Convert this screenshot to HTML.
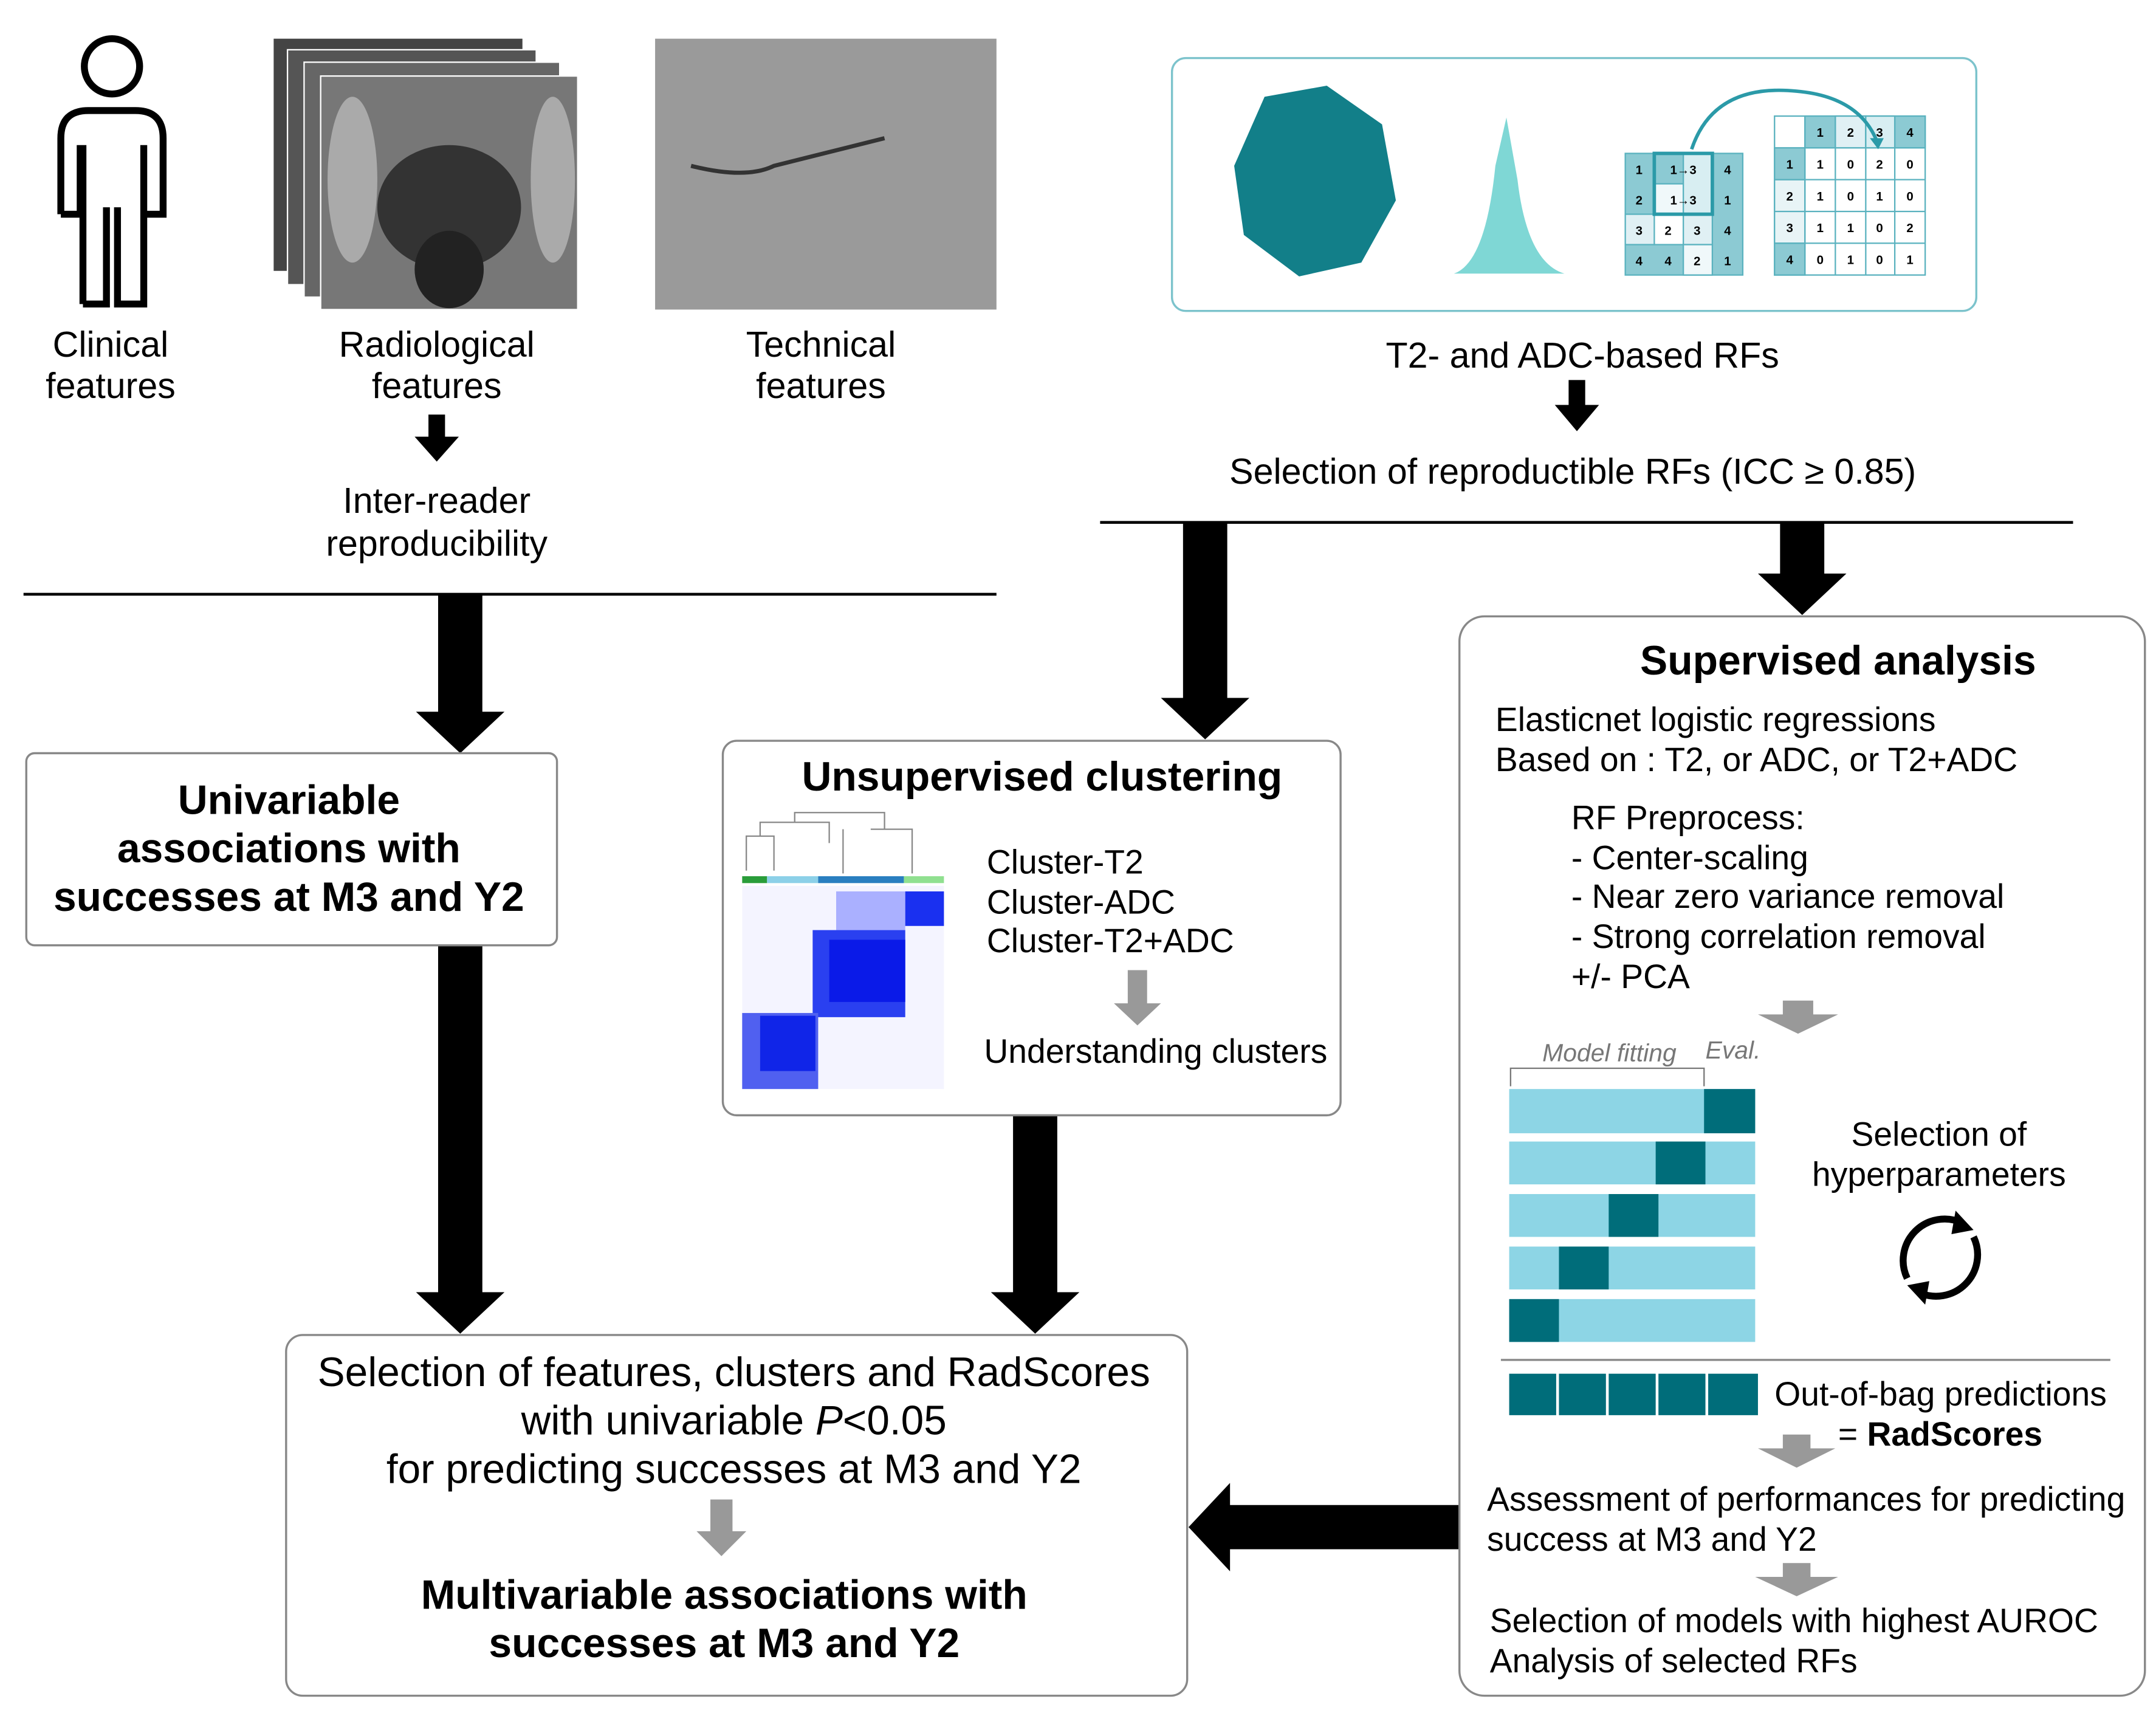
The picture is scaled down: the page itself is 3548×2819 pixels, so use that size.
<!DOCTYPE html>
<html><head><meta charset="utf-8"><style>
html,body{margin:0;padding:0;background:#fff;}
svg{display:block;}
text{font-family:"Liberation Sans",Arial,sans-serif;fill:#000;}
.b{font-weight:bold;}
.g{fill:#006d7a;font-size:9px;font-weight:bold;text-anchor:middle;}
</style></head><body>
<svg width="3548" height="2819" viewBox="0 0 1560 1239.5" xmlns="http://www.w3.org/2000/svg" xml:space="preserve">
<!-- person -->
<g fill="none" stroke="#000" stroke-width="5">
<circle cx="81" cy="48" r="20"/>
<path d="M60,220 L77,220 L77,150 M44,155 L44,100 Q44,80 64,80 L98,80 Q118,80 118,100 L118,155 L104,155 L104,105 M58,105 L58,155 L44,155 M85,150 L85,220 L104,220 L104,105 M60,105 L60,220"/>
</g>
<!-- radiological images -->
<rect x="198" y="28" width="180" height="168" fill="#444"/>
<rect x="208" y="36" width="180" height="170" fill="#555" stroke="#fff"/>
<rect x="220" y="45" width="185" height="170" fill="#666" stroke="#fff"/>
<rect x="232" y="55" width="186" height="169" fill="#777" stroke="#fff"/>
<ellipse cx="325" cy="150" rx="52" ry="45" fill="#333"/>
<ellipse cx="325" cy="195" rx="25" ry="28" fill="#222"/>
<ellipse cx="255" cy="130" rx="18" ry="60" fill="#aaa"/>
<ellipse cx="400" cy="130" rx="16" ry="60" fill="#aaa"/>
<!-- technical -->
<rect x="474" y="28" width="247" height="196" fill="#9a9a9a"/>
<path d="M500,120 Q540,130 560,120 Q600,110 640,100" stroke="#333" stroke-width="3" fill="none"/>
<text x="80" y="258" font-size="26" text-anchor="middle">Clinical</text>
<text x="80" y="288" font-size="26" text-anchor="middle">features</text>
<text x="316" y="258" font-size="26" text-anchor="middle">Radiological</text>
<text x="316" y="288" font-size="26" text-anchor="middle">features</text>
<text x="594" y="258" font-size="26" text-anchor="middle">Technical</text>
<text x="594" y="288" font-size="26" text-anchor="middle">features</text>
<polygon points="310,300 322,300 322,316 332,316 316,334 300,316 310,316"/>
<text x="316" y="371" font-size="26" text-anchor="middle">Inter-reader</text>
<text x="316" y="402" font-size="26" text-anchor="middle">reproducibility</text>
<line x1="17" y1="430" x2="721" y2="430" stroke="#000" stroke-width="2"/>
<!-- top right box -->
<rect x="848" y="42" width="582" height="183" rx="10" fill="#fff" stroke="#7cc3cc" stroke-width="1.5"/>
<path d="M915,70 L960,62 L1000,90 L1010,145 L985,190 L940,200 L900,170 L893,120 Z" fill="#127f89"/>
<path d="M1052,198 Q1075,190 1082,120 L1090,85 L1098,130 Q1105,190 1132,198 Z" fill="#7fd7d5"/>
<g stroke="#5ab2bf" stroke-width="1">
<rect x="1176" y="111" width="85" height="88" fill="#8ccad3"/>
<rect x="1197" y="133" width="21" height="22" fill="#f0f8fa"/>
<rect x="1197" y="155" width="21" height="22" fill="#fff"/>
<rect x="1218" y="155" width="21" height="22" fill="#e0f0f4"/>
<rect x="1218" y="177" width="21" height="22" fill="#f0f8fa"/>
<rect x="1218" y="111" width="21" height="44" fill="#d8eef2"/>
<rect x="1176" y="155" width="21" height="22" fill="#e0f0f4"/>
<rect x="1197" y="111" width="42" height="44" fill="none" stroke="#2b9aa8" stroke-width="2.5"/>
<rect x="1284" y="84" width="109" height="115" fill="#fff"/>
<rect x="1306" y="84" width="87" height="23" fill="#8ccad3"/>
<rect x="1284" y="107" width="22" height="92" fill="#8ccad3"/>
<rect x="1328" y="84" width="22" height="23" fill="#e0f0f4"/>
<rect x="1350" y="84" width="21" height="23" fill="#d8eef2"/>
<rect x="1284" y="130" width="22" height="46" fill="#e8f4f6"/>
<path d="M1306,84V199M1328,84V199M1350,84V199M1371,84V199M1284,107H1393M1284,130H1393M1284,153H1393M1284,176H1393" fill="none"/>
</g>
<g class="g">
<text x="1186" y="126">1</text><text x="1218" y="126">1→3</text><text x="1250" y="126">4</text>
<text x="1186" y="148">2</text><text x="1218" y="148">1→3</text><text x="1250" y="148">1</text>
<text x="1186" y="170">3</text><text x="1207" y="170">2</text><text x="1228" y="170">3</text><text x="1250" y="170">4</text>
<text x="1186" y="192">4</text><text x="1207" y="192">4</text><text x="1228" y="192">2</text><text x="1250" y="192">1</text>
<text x="1317" y="99">1</text><text x="1339" y="99">2</text><text x="1360" y="99">3</text><text x="1382" y="99">4</text>
<text x="1295" y="122">1</text><text x="1317" y="122">1</text><text x="1339" y="122">0</text><text x="1360" y="122">2</text><text x="1382" y="122">0</text>
<text x="1295" y="145">2</text><text x="1317" y="145">1</text><text x="1339" y="145">0</text><text x="1360" y="145">1</text><text x="1382" y="145">0</text>
<text x="1295" y="168">3</text><text x="1317" y="168">1</text><text x="1339" y="168">1</text><text x="1360" y="168">0</text><text x="1382" y="168">2</text>
<text x="1295" y="191">4</text><text x="1317" y="191">0</text><text x="1339" y="191">1</text><text x="1360" y="191">0</text><text x="1382" y="191">1</text>
</g>
<path d="M1224,108 Q1240,60 1300,66 Q1345,70 1358,102" stroke="#2b9aa8" stroke-width="2.5" fill="none"/>
<polygon points="1353,100 1363,100 1359,108" fill="#2b9aa8"/>
<text x="1145" y="266" font-size="26" text-anchor="middle">T2- and ADC-based  RFs</text>
<polygon points="1135,275 1147,275 1147,293 1157,293 1141,312 1125,293 1135,293"/>
<text x="1138" y="350" font-size="26" text-anchor="middle">Selection of reproductible RFs (ICC ≥ 0.85)</text>
<line x1="796" y1="378" x2="1500" y2="378" stroke="#000" stroke-width="2"/>
<!-- big arrows -->
<polygon points="317,430 349,430 349,515 365,515 333,545 301,515 317,515"/>
<polygon points="856,378 888,378 888,505 904,505 872,535 840,505 856,505"/>
<polygon points="1288,378 1320,378 1320,415 1336,415 1304,445 1272,415 1288,415"/>
<polygon points="317,684 349,684 349,935 365,935 333,965 301,935 317,935"/>
<polygon points="733,807 765,807 765,935 781,935 749,965 717,935 733,935"/>
<polygon points="1056,1089 1056,1121 890,1121 890,1137 860,1105 890,1073 890,1089"/>
<!-- univariable -->
<rect x="19" y="545" width="384" height="139" rx="6" fill="#fff" stroke="#888" stroke-width="1.5"/>
<text class="b" x="209" y="589" font-size="29.8" text-anchor="middle">Univariable</text>
<text class="b" x="209" y="624" font-size="29.8" text-anchor="middle">associations with</text>
<text class="b" x="209" y="659" font-size="29.8" text-anchor="middle">successes at M3 and Y2</text>
<!-- unsupervised -->
<rect x="523" y="536" width="447" height="271" rx="10" fill="#fff" stroke="#888" stroke-width="1.5"/>
<text class="b" x="754" y="572" font-size="29.8" text-anchor="middle">Unsupervised clustering</text>
<path d="M540,630 V605 H560 V630 M550,605 V595 H600 V610 M575,595 V588 H640 V600 M610,600 V632 M630,600 H660 V632" stroke="#888" fill="none"/>
<rect x="537" y="634" width="18" height="5" fill="#2a9d3a"/>
<rect x="555" y="634" width="37" height="5" fill="#8cd0e8"/>
<rect x="592" y="634" width="62" height="5" fill="#2a7fc0"/>
<rect x="654" y="634" width="29" height="5" fill="#90e090"/>
<rect x="537" y="641" width="146" height="147" fill="#f4f4ff"/>
<rect x="605" y="645" width="50" height="28" fill="#aab0ff"/>
<rect x="655" y="645" width="28" height="25" fill="#1a30f0"/>
<rect x="588" y="673" width="67" height="63" fill="#2a40f0"/>
<rect x="600" y="680" width="55" height="45" fill="#0a1ae8"/>
<rect x="537" y="733" width="55" height="55" fill="#5060f0"/>
<rect x="550" y="735" width="40" height="40" fill="#1025e8"/>
<text x="714" y="632" font-size="24.3">Cluster-T2</text>
<text x="714" y="661" font-size="24.3">Cluster-ADC</text>
<text x="714" y="689" font-size="24.3">Cluster-T2+ADC</text>
<polygon points="816,702 830,702 830,726 840,726 823,742 806,726 816,726" fill="#999"/>
<text x="712" y="769" font-size="24.3">Understanding clusters</text>
<!-- supervised -->
<rect x="1056" y="446" width="496" height="781" rx="18" fill="#fff" stroke="#888" stroke-width="1.5"/>
<text class="b" x="1330" y="488" font-size="29.8" text-anchor="middle">Supervised analysis</text>
<text x="1082" y="529" font-size="24.3">Elasticnet  logistic regressions</text>
<text x="1082" y="558" font-size="24.3">Based on : T2, or ADC, or T2+ADC</text>
<text x="1137" y="600" font-size="24.3">RF Preprocess:</text>
<text x="1137" y="629" font-size="24.3">- Center-scaling</text>
<text x="1137" y="657" font-size="24.3">- Near zero variance removal</text>
<text x="1137" y="686" font-size="24.3">- Strong correlation removal</text>
<text x="1137" y="715" font-size="24.3">+/- PCA</text>
<polygon points="1290,724 1312,724 1312,734 1330,734 1301,748 1272,734 1290,734" fill="#999"/>
<text x="1116" y="768" font-size="18" font-style="italic" style="fill:#777">Model fitting</text>
<text x="1234" y="766" font-size="18" font-style="italic" style="fill:#777">Eval.</text>
<path d="M1093,786 V773 H1233 V786" stroke="#777" fill="none"/>
<g fill="#8dd5e5">
<rect x="1092" y="788" width="178" height="32"/><rect x="1092" y="826" width="178" height="31"/>
<rect x="1092" y="864" width="178" height="31"/><rect x="1092" y="902" width="178" height="31"/>
<rect x="1092" y="940" width="178" height="31"/></g>
<g fill="#006d7a">
<rect x="1233" y="788" width="37" height="32"/><rect x="1198" y="826" width="36" height="31"/>
<rect x="1164" y="864" width="36" height="31"/><rect x="1128" y="902" width="36" height="31"/>
<rect x="1092" y="940" width="36" height="31"/></g>
<text x="1403" y="829" font-size="24.3" text-anchor="middle">Selection of</text>
<text x="1403" y="858" font-size="24.3" text-anchor="middle">hyperparameters</text>
<g fill="none" stroke="#000" stroke-width="5">
<path d="M1380,925 A30,30 0 0 1 1420,885"/><path d="M1428,895 A30,30 0 0 1 1388,935"/></g>
<polygon points="1415,876 1428,890 1412,893"/><polygon points="1393,944 1380,930 1396,927"/>
<line x1="1086" y1="984" x2="1527" y2="984" stroke="#888" stroke-width="1.5"/>
<g fill="#006d7a"><rect x="1092" y="994" width="34" height="30"/><rect x="1128" y="994" width="34" height="30"/><rect x="1164" y="994" width="34" height="30"/><rect x="1200" y="994" width="34" height="30"/><rect x="1236" y="994" width="36" height="30"/></g>
<text x="1284" y="1017" font-size="24.3">Out-of-bag predictions</text>
<text x="1330" y="1046" font-size="24.3">= <tspan class="b">RadScores</tspan></text>
<polygon points="1290,1038 1310,1038 1310,1048 1328,1048 1300,1062 1272,1048 1290,1048" fill="#999"/>
<text x="1076" y="1093" font-size="24.3">Assessment of performances for predicting</text>
<text x="1076" y="1122" font-size="24.3">success at M3 and Y2</text>
<polygon points="1290,1131 1310,1131 1310,1141 1330,1141 1300,1155 1270,1141 1290,1141" fill="#999"/>
<text x="1078" y="1181" font-size="24.3">Selection of models with highest AUROC</text>
<text x="1078" y="1210" font-size="24.3">Analysis of selected RFs</text>
<!-- bottom box -->
<rect x="207" y="966" width="652" height="261" rx="12" fill="#fff" stroke="#888" stroke-width="1.5"/>
<text x="531" y="1003" font-size="29.7" text-anchor="middle">Selection of features, clusters and RadScores</text>
<text x="531" y="1038" font-size="29.7" text-anchor="middle">with univariable <tspan font-style="italic">P</tspan>&lt;0.05</text>
<text x="531" y="1073" font-size="29.7" text-anchor="middle">for predicting successes at M3 and Y2</text>
<polygon points="514,1085 530,1085 530,1108 540,1108 522,1126 504,1108 514,1108" fill="#999"/>
<text class="b" x="524" y="1164" font-size="29.8" text-anchor="middle">Multivariable associations with</text>
<text class="b" x="524" y="1199" font-size="29.8" text-anchor="middle">successes at M3 and Y2</text>
</svg>
</body></html>
